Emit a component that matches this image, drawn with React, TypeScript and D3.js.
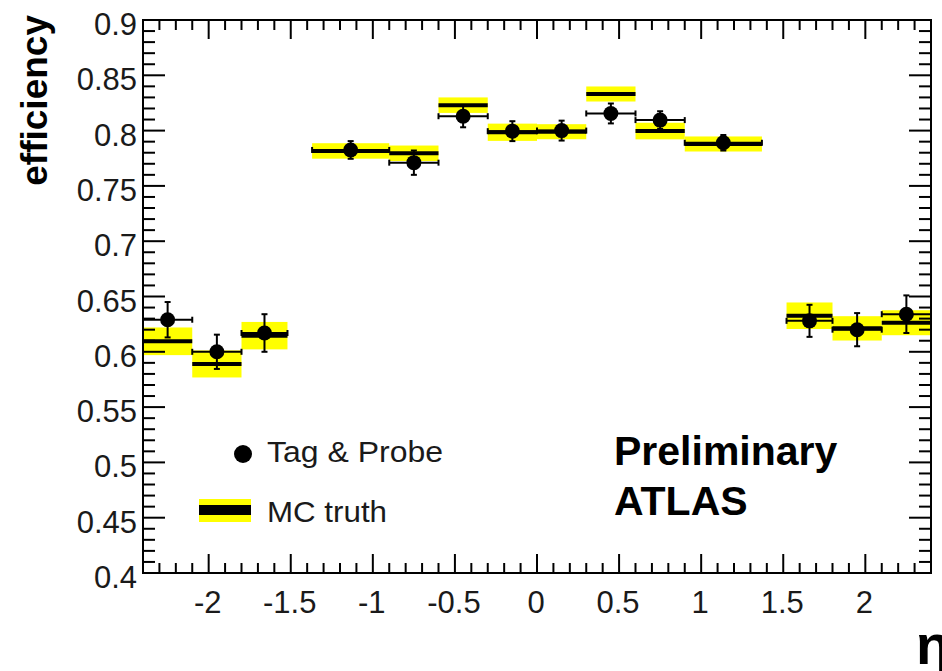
import React from 'react';
import * as d3 from 'd3';

// eta bins
const binLow = [-2.4, -2.1, -1.8, -1.37, -0.9, -0.6, -0.3, 0, 0.3, 0.6, 0.9, 1.52, 1.8, 2.1];
const binHigh = [-2.1, -1.8, -1.52, -0.9, -0.6, -0.3, 0, 0.3, 0.6, 0.9, 1.37, 1.8, 2.1, 2.4];

// Tag & Probe
const tpEff = [0.629, 0.600, 0.617, 0.7825, 0.771, 0.813, 0.7995, 0.800, 0.8155, 0.8095, 0.789, 0.628, 0.620, 0.634];
const tpErr = [0.016, 0.0155, 0.017, 0.008, 0.011, 0.010, 0.009, 0.009, 0.009, 0.008, 0.007, 0.0145, 0.015, 0.017];

// MC truth
const mcEff = [0.6095, 0.589, 0.6146, 0.7816, 0.7795, 0.823, 0.7985, 0.799, 0.8331, 0.7996, 0.7879, 0.6326, 0.6212, 0.6263];
const mcErr = [0.0125, 0.0122, 0.0124, 0.007, 0.007, 0.007, 0.0078, 0.0068, 0.0068, 0.0075, 0.0068, 0.012, 0.011, 0.0113];

const xTickLabels = [-2, -1.5, -1, -0.5, 0, 0.5, 1, 1.5, 2];
const yTickLabels = [0.4, 0.45, 0.5, 0.55, 0.6, 0.65, 0.7, 0.75, 0.8, 0.85, 0.9];

const W = 942;
const H = 671;
const font = '"Liberation Sans", Arial, Helvetica, sans-serif';

export default function App() {
  const left = 143, right = 931, top = 20, bottom = 573;
  const x = d3.scaleLinear().domain([-2.4, 2.4]).range([left, right]);
  const y = d3.scaleLinear().domain([0.4, 0.9]).range([bottom, top]);

  // minor ticks every 0.1 / 0.01
  const xMinor = d3.range(-24, 25).map((i) => i / 10);
  const yMinor = d3.range(40, 91).map((i) => i / 100);
  const isMajorX = (v: number) => Math.abs(v * 2 - Math.round(v * 2)) < 1e-6;
  const isMajorY = (v: number) => Math.abs(v * 20 - Math.round(v * 20)) < 1e-6;

  const bins = binLow.map((lo, i) => ({
    lo, hi: binHigh[i], tp: tpEff[i], tpe: tpErr[i], mc: mcEff[i], mce: mcErr[i],
  }));

  const cap = 3;

  return (
    <svg width={W} height={H} style={{ position: 'absolute', left: 0, top: 0, background: '#fff' }}>
      <rect x={0} y={0} width={W} height={H} fill="#fff" />

      {/* MC truth bands */}
      {bins.map((b, i) => (
        <rect key={'band' + i} x={x(b.lo)} width={x(b.hi) - x(b.lo)}
          y={y(b.mc + b.mce)} height={y(b.mc - b.mce) - y(b.mc + b.mce)} fill="#ffff00" />
      ))}
      {bins.map((b, i) => (
        <line key={'mc' + i} x1={x(b.lo)} x2={x(b.hi)} y1={y(b.mc)} y2={y(b.mc)}
          stroke="#000" strokeWidth={4} />
      ))}

      {/* Tag & probe points */}
      {bins.map((b, i) => {
        const cx = x((b.lo + b.hi) / 2);
        const cy = y(b.tp);
        const y1 = y(b.tp + b.tpe), y2 = y(b.tp - b.tpe);
        return (
          <g key={'tp' + i} stroke="#000" strokeWidth={2}>
            <line x1={x(b.lo)} x2={x(b.hi)} y1={cy} y2={cy} />
            <line x1={x(b.lo)} x2={x(b.lo)} y1={cy - cap} y2={cy + cap} />
            <line x1={x(b.hi)} x2={x(b.hi)} y1={cy - cap} y2={cy + cap} />
            <line x1={cx} x2={cx} y1={y1} y2={y2} />
            <line x1={cx - cap} x2={cx + cap} y1={y1} y2={y1} />
            <line x1={cx - cap} x2={cx + cap} y1={y2} y2={y2} />
            <circle cx={cx} cy={cy} r={7.5} fill="#000" stroke="none" />
          </g>
        );
      })}

      {/* frame */}
      <rect x={left} y={top} width={right - left} height={bottom - top} fill="none" stroke="#000" strokeWidth={2} />

      {/* x ticks */}
      {xMinor.map((v, i) => {
        const len = isMajorX(v) ? 19 : 10;
        return (
          <g key={'xt' + i} stroke="#000" strokeWidth={2}>
            <line x1={x(v)} x2={x(v)} y1={bottom} y2={bottom - len} />
            <line x1={x(v)} x2={x(v)} y1={top} y2={top + len} />
          </g>
        );
      })}
      {/* y ticks */}
      {yMinor.map((v, i) => {
        const len = isMajorY(v) ? 22 : 12;
        return (
          <g key={'yt' + i} stroke="#000" strokeWidth={2}>
            <line x1={left} x2={left + len} y1={y(v)} y2={y(v)} />
            <line x1={right} x2={right - len} y1={y(v)} y2={y(v)} />
          </g>
        );
      })}

      {/* tick labels */}
      <g fontFamily={font} fontSize={31} fill="#1a1a1a">
        {xTickLabels.map((v) => (
          <text key={'xl' + v} x={x(v) - 1} y={613} textAnchor="middle">{String(v)}</text>
        ))}
        {yTickLabels.map((v) => (
          <text key={'yl' + v} x={137} y={y(v) + 15} textAnchor="end">{String(v)}</text>
        ))}
      </g>

      {/* axis titles */}
      <text transform="translate(47,15) rotate(-90)" textAnchor="end" fontFamily={font}
        fontWeight="bold" fontSize={37} fill="#000">efficiency</text>
      <text x={916} y={664} fontFamily={font} fontWeight="bold" fontSize={56} fill="#000">η</text>

      {/* legend */}
      <circle cx={243} cy={454} r={9} fill="#000" />
      <text x={267} y={462} fontFamily={font} fontSize={29} fill="#1a1a1a"
        textLength={176} lengthAdjust="spacingAndGlyphs">Tag &amp; Probe</text>
      <rect x={199} y={499} width={52} height={23} fill="#ffff00" />
      <rect x={199} y={505} width={52} height={10} fill="#000" />
      <text x={267} y={522} fontFamily={font} fontSize={29} fill="#1a1a1a"
        textLength={120} lengthAdjust="spacingAndGlyphs">MC truth</text>

      {/* labels */}
      <g fontFamily={font} fontWeight="bold" fontSize={41} fill="#000">
        <text x={614} y={465}>Preliminary</text>
        <text x={614} y={515}>ATLAS</text>
      </g>
    </svg>
  );
}
